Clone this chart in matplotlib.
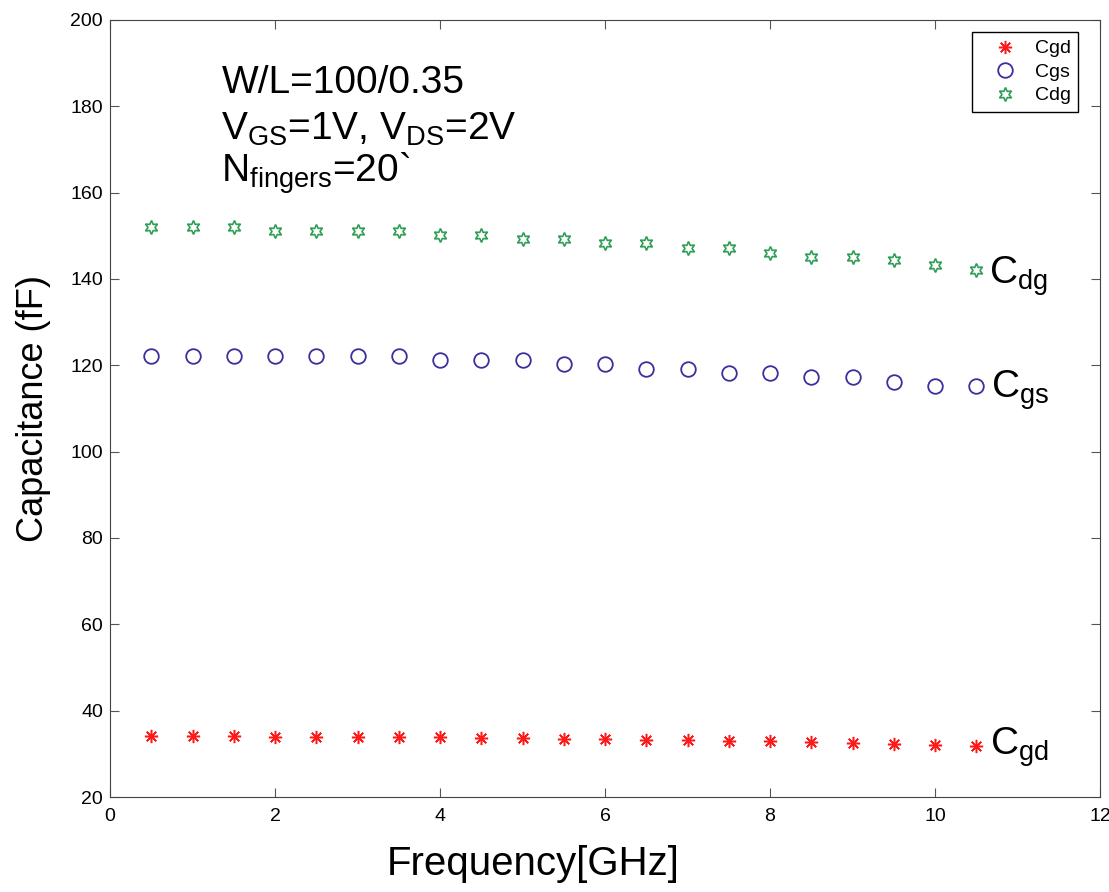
import matplotlib
matplotlib.use("Agg")
import matplotlib.pyplot as plt

plt.rcParams["font.family"] = ["Liberation Sans", "DejaVu Sans"]
plt.rcParams["mathtext.fontset"] = "custom"
plt.rcParams["mathtext.rm"] = "Liberation Sans"
plt.rcParams["mathtext.it"] = "Liberation Sans"

freq = [0.5, 1.0, 1.5, 2.0, 2.5, 3.0, 3.5, 4.0, 4.5, 5.0, 5.5,
        6.0, 6.5, 7.0, 7.5, 8.0, 8.5, 9.0, 9.5, 10.0, 10.5]
cgd = [34.2, 34.1, 34.1, 34.0, 34.0, 33.9, 33.9, 33.8, 33.7, 33.6, 33.5,
       33.4, 33.3, 33.1, 33.0, 32.9, 32.7, 32.5, 32.3, 32.1, 31.8]
cgs = [122.2, 122.2, 122.2, 122.2, 122.2, 122.2, 122.2, 121.2, 121.2, 121.2, 120.3,
       120.3, 119.1, 119.1, 118.3, 118.3, 117.2, 117.2, 116.2, 115.2, 115.2]
cdg = [152.1, 152.1, 152.1, 151.1, 151.1, 151.1, 151.1, 150.2, 150.2, 149.2, 149.2,
       148.3, 148.3, 147.1, 147.1, 146.1, 145.2, 145.2, 144.3, 143.2, 142.1]

fig = plt.figure(figsize=(11.09, 8.92), dpi=100)
ax = fig.add_axes([0.0992, 0.1065, 0.8927, 0.8711])

ax.plot(freq, cgd, linestyle="none", marker=(8, 2, 0), markersize=9.5,
        color="#ff1a1a", markeredgewidth=1.1, label="Cgd")
ax.plot(freq, cgs, linestyle="none", marker="o", markersize=10.5,
        markerfacecolor="none", markeredgecolor="#3b2f9e", markeredgewidth=1.3,
        label="Cgs")
ax.plot(freq, cdg, linestyle="none", marker=(6, 1, 0), markersize=10,
        markerfacecolor="none", markeredgecolor="#2e9e55", markeredgewidth=1.2,
        label="Cdg")

ax.set_xlim(0, 12)
ax.set_ylim(20, 200)
ax.set_xticks(range(0, 13, 2))
ax.set_yticks(range(20, 201, 20))
ax.tick_params(direction="in", top=True, right=True, labelsize=14, length=6.5,
               color="#555555")
ax.tick_params(axis="x", pad=8)
ax.tick_params(axis="y", pad=5)
for s in ax.spines.values():
    s.set_color("#444444")

ax.set_xlabel("Frequency[GHz]", fontsize=29)
ax.xaxis.set_label_coords(0.427, -0.062)
ax.set_ylabel("Capacitance (fF)", fontsize=26, labelpad=14)

# device / bias annotation
ax.text(1.35, 183, "W/L=100/0.35", fontsize=28)
ax.text(1.35, 172.2, r"V$_{\mathregular{GS}}$=1V, V$_{\mathregular{DS}}$=2V", fontsize=28)
ax.text(1.35, 162.5, r"N$_{\mathregular{fingers}}$=20`", fontsize=28)

# curve names at the right end of each series
ax.text(10.65, 139, r"C$_{\mathregular{dg}}$", fontsize=28)
ax.text(10.68, 112.4, r"C$_{\mathregular{gs}}$", fontsize=28)
ax.text(10.67, 29.7, r"C$_{\mathregular{gd}}$", fontsize=28)

leg = ax.legend(loc="upper right", bbox_to_anchor=(0.988, 0.997), fontsize=14,
                fancybox=False, edgecolor="black", framealpha=1,
                handletextpad=0.2, borderpad=0.4, labelspacing=0.3,
                handlelength=2.6)
leg.get_frame().set_linewidth(1.0)

fig.savefig("out.png", dpi=100)
